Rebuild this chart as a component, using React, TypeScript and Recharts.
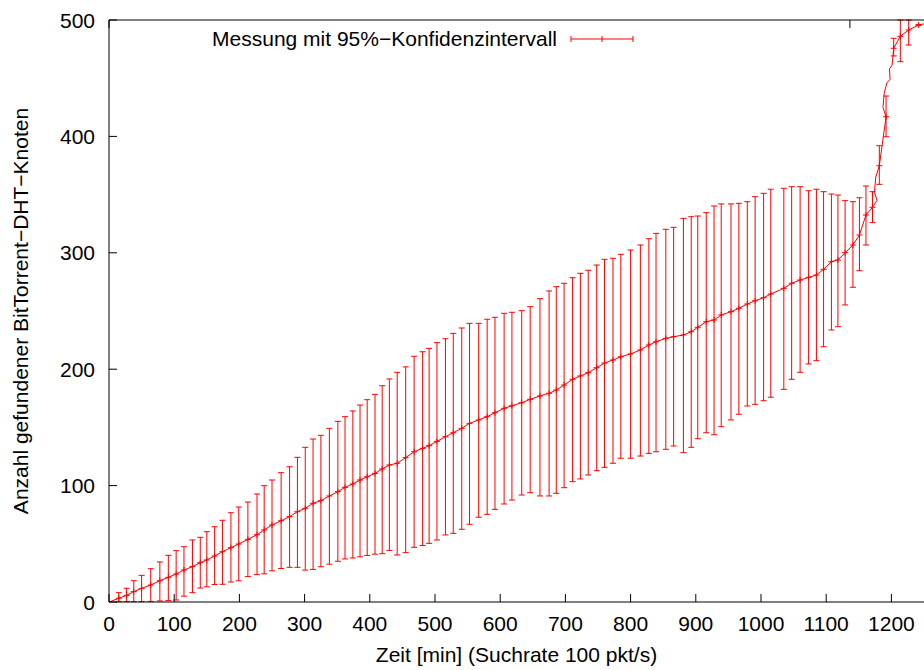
import React from 'react';
import { ComposedChart, Line, XAxis, YAxis, ErrorBar, Label } from 'recharts';

// Zeit [min]
const times = [
  0, 15, 27, 38, 50, 64, 78, 91, 103, 115, 128, 140, 150, 162, 174, 187, 199, 213, 227, 238,
  250, 264, 277, 289, 301, 313, 325, 338, 351, 362, 374, 385, 396, 408, 419, 430, 442, 455, 468, 481,
  491, 503, 516, 528, 541, 553, 567, 580, 592, 606, 618, 633, 646, 661, 675, 686, 698, 711, 723, 735,
  748, 760, 773, 785, 800, 815, 828, 839, 854, 866, 881, 893, 903, 916, 928, 939, 954, 966, 979, 991,
  1004, 1015, 1035, 1047, 1060, 1073, 1085, 1096, 1108, 1118, 1129, 1141, 1151, 1161, 1171,
  1178, 1174, 1176, 1181.5, 1191.8, 1187, 1189, 1193, 1198, 1197, 1201, 1203.5, 1213.7, 1226.5, 1241.8, 1260,
];

// mean number of nodes found
const means = [
  0, 3.2, 5.7, 8.9, 11.7, 14.6, 18.3, 21.2, 24.0, 27.5, 30.4, 33.8, 36.1, 39.5, 43.2, 46.7, 49.8, 53.8, 57.8, 61.9,
  66.2, 69.8, 73.3, 77.6, 80.5, 84.8, 87.0, 91.1, 94.8, 98.5, 101.4, 104.8, 107.6, 110.5, 114.3, 117.7, 119.2, 124.0, 129.1, 132.0,
  134.3, 138.0, 142.0, 145.4, 149.2, 153.5, 156.4, 159.2, 162.6, 166.4, 168.6, 171.2, 174.1, 177.0, 179.3, 182.1, 186.4, 191.3, 194.2, 197.0,
  201.3, 205.3, 207.9, 210.7, 213.1, 216.5, 220.8, 223.6, 226.5, 227.9, 229.4, 232.2, 236.0, 240.8, 242.3, 246.6, 249.4, 252.3, 256.0, 258.8,
  261.4, 264.6, 269.5, 273.8, 276.6, 278.9, 280.9, 285.8, 292.4, 293.8, 300.1, 306.7, 315.3, 332.5, 339.1,
  345, 352, 365, 374.8, 416.9, 425, 437, 446, 449, 458, 461, 475.7, 486, 491.4, 495.7, 498,
];

// lower end of the 95% interval (null = no bar drawn at that point)
const lows: (number | null)[] = [
  null, 0.3, 0.3, 0.3, 0.3, 0.5, 0.9, 1.2, 1.7, 5.0, 8.0, 12.0, 13.0, 15.0, 15.2, 17.2, 18.2, 21.8, 23.5, 24.2,
  26.8, 28.8, 29.8, 29.8, 27.4, 28.0, 30.3, 32.5, 35.0, 37.0, 37.8, 38.8, 40.0, 41.1, 41.5, 44.3, 40.4, 42.4, 47.0, 48.5,
  50.4, 53.3, 57.6, 59.0, 62.5, 66.8, 72.8, 75.3, 79.6, 84.2, 87.6, 91.9, 93.9, 91.1, 91.1, 93.4, 98.2, 103.4, 105.7, 109.1,
  112.8, 115.7, 119.2, 123.5, 123.5, 125.4, 127.7, 129.1, 131.2, 134.0, 128.3, 132.9, 140.3, 145.4, 143.7, 150.6, 156.4, 161.3, 168.4, 169.8,
  172.9, 175.9, 182.7, 191.3, 197.3, 204.5, 207.3, 219.3, 233.7, 236.5, 255.2, 270.4, 284.6, 306.7, 325.9,
  null, null, null, 358.8, 399.7, null, null, null, null, null, null, 469.1, 464.2, 478.5, 495.7, null,
];

// upper end of the 95% interval
const highs: (number | null)[] = [
  null, 8.0, 11.8, 18.3, 22.9, 28.6, 34.4, 40.1, 44.1, 47.5, 53.3, 55.6, 60.4, 64.7, 70.2, 76.7, 81.6, 85.9, 92.8, 99.9,
  104.8, 111.1, 116.2, 124.3, 132.9, 140.0, 143.2, 149.2, 155.2, 159.2, 164.1, 169.2, 173.8, 178.4, 185.8, 191.6, 197.3, 202.0, 211.1, 215.0,
  217.9, 222.8, 226.2, 230.8, 235.4, 239.4, 239.4, 242.9, 244.6, 248.0, 248.9, 250.3, 253.7, 260.6, 267.2, 270.9, 273.8, 278.6, 282.4, 285.0,
  289.5, 294.4, 295.3, 298.7, 302.4, 306.7, 312.1, 316.7, 320.2, 321.9, 329.6, 331.0, 331.6, 334.5, 340.2, 342.0, 342.0, 342.5, 343.9, 348.2,
  351.1, 354.6, 355.4, 356.8, 356.8, 353.3, 354.6, 352.5, 350.5, 349.6, 344.8, 343.9, 347.3, 357.4, 352.5,
  null, null, null, 392.0, 434.7, null, null, null, null, null, null, 484.3, 500, 500, 495.7, null,
];

const xTicks = [0, 100, 200, 300, 400, 500, 600, 700, 800, 900, 1000, 1100, 1200];
const yTicks = [0, 100, 200, 300, 400, 500];

const FONT = '"Liberation Sans", Arial, Helvetica, sans-serif';
const RED = '#ff0000';

const data = times.map((t, i) => ({
  t,
  n: means[i],
  err: lows[i] == null || highs[i] == null ? null : [means[i] - (lows[i] as number), (highs[i] as number) - means[i]],
}));

const BottomTick = ({ x, y, payload }: any) => (
  <g>
    <line x1={x} y1={y} x2={x} y2={y - 8} stroke="#000" />
    <text x={x} y={y + 29} textAnchor="middle" fontSize={21} fontFamily={FONT} fill="#000">
      {payload.value}
    </text>
  </g>
);

const TopTick = ({ x, y }: any) => <line x1={x} y1={y} x2={x} y2={y + 8} stroke="#000" />;

const LeftTick = ({ x, y, payload }: any) => (
  <g>
    <line x1={x} y1={y} x2={x + 8} y2={y} stroke="#000" />
    <text x={x - 14} y={y + 7.5} textAnchor="end" fontSize={21} fontFamily={FONT} fill="#000">
      {payload.value}
    </text>
  </g>
);

const RightTick = ({ x, y }: any) => <line x1={x} y1={y} x2={x - 8} y2={y} stroke="#000" />;

// small "+" at every measured point
const PlusDot = (props: any) => {
  const { cx, cy, payload, index } = props;
  if (payload.err == null || cx == null || cy == null) return <g key={`d${index}`} />;
  return <path key={`d${index}`} d={`M${cx - 3},${cy}h6M${cx},${cy - 3}v6`} stroke={RED} strokeWidth={1} fill="none" />;
};

const LegendBox = () => (
  <svg width={924} height={60} style={{ position: 'absolute', left: 0, top: 0, pointerEvents: 'none' }}>
    <text x={557} y={46} textAnchor="end" fontSize={21} fontFamily={FONT} fill="#000">
      Messung mit 95%−Konfidenzintervall
    </text>
    <g stroke={RED} strokeWidth={1}>
      <line x1={571} y1={39} x2={633} y2={39} />
      <line x1={571} y1={36} x2={571} y2={42} />
      <line x1={633} y1={36} x2={633} y2={42} />
      <line x1={602} y1={36} x2={602} y2={42} />
    </g>
  </svg>
);

export default function App() {
  return (
    <div style={{ position: 'absolute', left: 0, top: 0, width: 924, height: 670, background: '#fff' }}>
      <ComposedChart width={924} height={670} data={data} margin={{ top: 0, right: 0, bottom: 0, left: 0 }}>
        <XAxis
          dataKey="t"
          type="number"
          domain={[0, 1250]}
          allowDataOverflow
          ticks={xTicks}
          interval={0}
          height={68}
          tickSize={0}
          tickMargin={0}
          tickLine={false}
          tick={<BottomTick />}
          axisLine={{ stroke: '#000' }}
        >
          <Label
            value="Zeit [min] (Suchrate 100 pkt/s)"
            position="insideBottom"
            offset={8}
            style={{ fontSize: 21, fontFamily: FONT, fill: '#000' }}
          />
        </XAxis>
        <XAxis
          xAxisId="top"
          orientation="top"
          type="number"
          domain={[0, 1250]}
          allowDataOverflow
          ticks={xTicks}
          interval={0}
          height={20}
          tickSize={0}
          tickMargin={0}
          tickLine={false}
          tick={<TopTick />}
          axisLine={{ stroke: '#000' }}
        />
        <YAxis
          type="number"
          domain={[0, 500]}
          allowDataOverflow
          ticks={yTicks}
          interval={0}
          width={109}
          tickSize={0}
          tickMargin={0}
          tickLine={false}
          tick={<LeftTick />}
          axisLine={{ stroke: '#000' }}
        >
          <Label
            value="Anzahl gefundener BitTorrent−DHT−Knoten"
            angle={-90}
            position="insideLeft"
            offset={21}
            style={{ fontSize: 21, fontFamily: FONT, fill: '#000', textAnchor: 'middle' }}
          />
        </YAxis>
        <YAxis
          yAxisId="right"
          orientation="right"
          type="number"
          domain={[0, 500]}
          ticks={yTicks}
          interval={0}
          width={0}
          tickSize={0}
          tickMargin={0}
          tickLine={false}
          tick={<RightTick />}
          axisLine={{ stroke: '#000' }}
        />
        <Line
          dataKey="n"
          type="linear"
          stroke={RED}
          strokeWidth={1}
          dot={PlusDot}
          activeDot={false}
          isAnimationActive={false}
        >
          <ErrorBar dataKey="err" direction="y" width={3} stroke={RED} strokeWidth={1} />
        </Line>
      </ComposedChart>
      <LegendBox />
    </div>
  );
}
